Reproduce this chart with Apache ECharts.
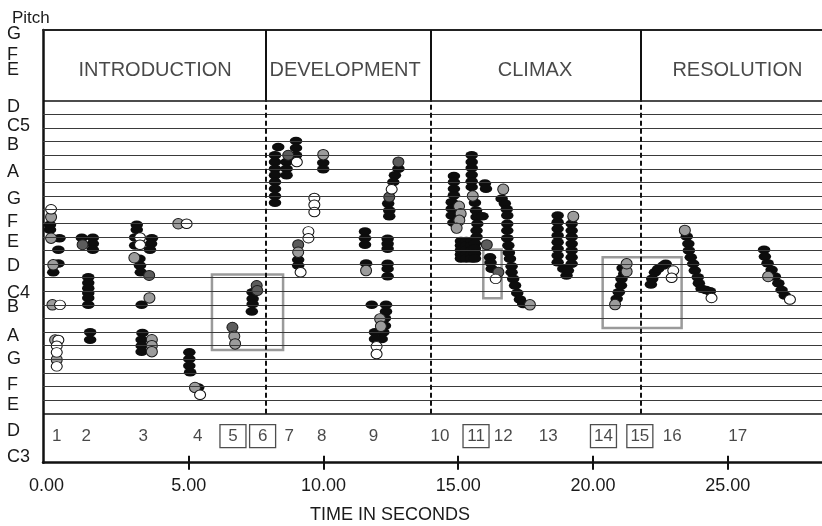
<!DOCTYPE html>
<html>
<head>
<meta charset="utf-8">
<script src="https://cdn.jsdelivr.net/npm/echarts@6/dist/echarts.min.js"></script>
<style>
html, body { margin: 0; padding: 0; background: #fff; }
#chart { width: 822px; height: 526px; }
</style>
</head>
<body>
<div id="chart"></div>
<script>
// time in seconds, pitch as semitone number (C4 = 60)
var blackNotes = [
    [-0.15,64.89],[-0.15,64.52],[0.20,63.90],[0.16,63.05],[0.16,62.04],[-0.03,61.40],
    [1.03,63.93],[1.44,63.93],[1.44,63.49],[1.44,63.05],
    [1.27,61.03],[1.27,60.62],[1.27,60.22],[1.27,59.88],[1.27,59.51],[1.27,59.00],
    [1.34,56.98],[1.34,56.44],
    [3.07,64.89],[3.07,64.52],[3.01,63.95],[3.01,63.37],[3.63,63.90],[3.60,63.49],[3.56,63.05],
    [3.17,62.39],[3.19,61.89],[3.22,61.40],[3.25,59.00],
    [3.28,56.94],[3.25,56.44],[3.25,56.00],[3.25,55.56],
    [5.02,55.51],[5.02,55.02],[5.02,54.53],[5.05,54.04],[5.35,52.93],
    [7.37,59.93],[7.37,59.44],[7.37,59.07],[7.34,58.51],
    [8.32,70.60],[8.20,69.99],[8.20,69.50],[8.20,69.01],[8.20,68.52],[8.20,68.03],[8.20,67.54],[8.20,67.00],[8.20,66.51],
    [8.63,69.50],[8.63,69.01],[8.63,68.52],
    [8.98,71.05],[8.98,70.53],[8.98,69.99],
    [9.99,69.45],[9.99,68.96],
    [9.06,62.31],[9.06,61.89],
    [11.54,64.40],[11.54,63.90],[11.54,63.42],[11.58,62.04],
    [12.38,63.86],[12.38,63.49],[12.38,63.12],[12.38,62.02],[12.38,61.65],[12.38,61.10],
    [12.78,69.01],[12.65,68.52],[12.59,68.03],[12.40,66.44],[12.44,65.94],[12.44,65.52],
    [11.79,59.00],[12.32,59.00],[12.32,58.51],[12.28,58.01],[12.28,57.47],[12.22,56.98],[12.16,56.49],[11.91,56.98],[11.91,56.49],
    [14.84,68.47],[14.84,68.03],[14.84,67.54],[14.84,67.05],[14.76,66.55],[14.76,66.07],[14.76,65.57],[14.82,65.04],
    [15.10,63.70],[15.10,63.37],[15.10,63.04],[15.10,62.70],[15.10,62.40],
    [15.30,63.70],[15.30,63.37],[15.30,63.04],[15.30,62.70],[15.30,62.40],
    [15.50,63.70],[15.50,63.37],[15.50,63.04],[15.50,62.70],[15.50,62.40],
    [15.50,69.99],[15.50,69.50],[15.50,69.06],[15.50,68.57],[15.50,68.08],[15.50,67.66],
    [15.62,66.51],[15.66,65.94],[15.68,65.45],[15.71,64.96],[15.68,64.47],[15.68,63.98],
    [15.62,63.51],[15.62,63.14],[15.62,62.78],[15.62,62.41],
    [15.99,67.91],[16.03,67.54],[15.90,65.52],
    [16.18,62.50],[16.20,62.09],[16.24,61.65],
    [16.61,66.80],[16.73,66.44],[16.80,66.02],[16.82,65.57],[16.82,64.96],[16.82,64.47],[16.82,63.90],
    [16.86,63.37],[16.88,62.83],[16.92,62.39],[16.98,61.84],[16.98,61.40],[17.04,60.91],[17.11,60.42],
    [17.19,59.88],[17.29,59.39],[17.41,59.07],
    [18.69,65.57],[18.69,65.08],[18.69,64.59],[18.69,64.10],[18.69,63.61],[18.69,63.12],[18.69,62.63],[18.69,62.14],
    [18.90,61.65],[19.02,61.16],
    [19.21,64.96],[19.21,64.47],[19.21,63.98],[19.21,63.49],[19.21,63.00],[19.21,62.50],[19.21,62.02],[19.07,61.52],
    [20.88,59.44],[20.96,59.93],[21.04,60.42],[21.06,60.91],[21.16,61.28],[21.10,61.70],
    [22.15,60.49],[22.20,60.91],[22.30,61.40],[22.42,61.65],[22.61,61.89],[22.70,62.02],
    [23.48,64.03],[23.54,63.49],[23.56,63.00],[23.63,62.50],[23.72,62.02],[23.78,61.52],[23.89,61.03],
    [23.93,60.59],[24.03,60.18],[24.19,60.09],[24.34,60.00],
    [26.35,63.05],[26.38,62.56],[26.48,62.06],[26.63,61.58],[26.75,61.08],[26.88,60.59],[27.00,60.10],[27.12,59.68]
];
var darkNotes = [
    [1.06,63.42],[3.53,61.16],[6.62,57.35],[7.52,60.42],[7.54,60.05],[8.69,69.99],
    [9.06,63.42],[12.78,69.50],[12.44,66.92],[16.06,63.42],[16.49,61.40]
];
var grayNotes = [
    [-0.11,65.45],[-0.11,63.90],[-0.03,61.94],[-0.06,59.00],[0.04,56.42],[0.10,54.97],
    [2.98,62.46],[3.54,59.51],[3.63,56.44],[3.63,56.00],[3.63,55.56],
    [4.61,64.96],[5.23,52.93],[6.69,56.69],[6.72,56.13],
    [9.99,70.04],[9.06,62.87],[11.58,61.52],[12.10,57.97],[12.13,57.42],
    [15.03,66.24],[15.09,65.70],[15.04,65.21],[14.94,64.64],[15.54,67.00],
    [16.67,67.49],[17.66,59.00],[19.27,65.50],
    [20.82,59.02],[21.25,61.45],[21.25,62.02],[23.41,64.47],[26.50,61.08]
];
var whiteNotes = [
    [-0.11,66.02],[0.22,59.00],[0.16,56.42],[0.10,56.00],[0.10,55.51],[0.10,54.48],
    [3.19,63.95],[3.19,63.42],[4.92,64.96],[5.42,52.39],
    [9.01,69.50],[9.66,66.85],[9.66,66.36],[9.66,65.82],[9.44,64.40],[9.44,63.90],[9.15,61.40],
    [12.53,67.49],[11.97,55.95],[11.97,55.39],
    [16.39,60.91],[22.98,61.52],[22.92,60.99],[24.40,59.51],[27.31,59.39]
];

var sectionNames = ['INTRODUCTION', 'DEVELOPMENT', 'CLIMAX', 'RESOLUTION'];
var sectionCenters = [3.75, 10.80, 17.85, 25.36];
var sectionBreaks = [7.87, 13.99, 21.78];

var segmentNames = ['1','2','3','4','5','6','7','8','9','10','11','12','13','14','15','16','17'];
var segmentTimes = [0.10, 1.19, 3.31, 5.33, 6.64, 7.74, 8.73, 9.93, 11.85, 14.32, 15.66, 16.67, 18.34, 20.39, 21.74, 22.94, 25.37];
var boxedSegments = ['5', '6', '11', '14', '15'];

// [start time, end time, low pitch, high pitch]
var boxes = [
    [5.86, 8.50, 55.68, 61.23],
    [15.93, 16.61, 59.48, 63.07],
    [20.36, 23.29, 57.30, 62.50]
];

var pitchNames = ['G','F','E','D','C5','B','A','G','F','E','D','C4','B','A','G','F','E','D','C3'];
var pitchLabelPos = [78.91, 77.36, 76.26, 73.54, 72.14, 70.75, 68.76, 66.78, 65.09, 63.62, 61.86, 59.87, 58.84, 56.71, 55.02, 53.11, 51.64, 49.73, 47.82];
var timeTicks = [0, 5, 10, 15, 20, 25];

var lowLine = 51, highLine = 74;
var staffPitches = [];
for (var p = lowLine; p <= highLine; p++) staffPitches.push(p);

var yMin = 47.4, yMax = 79.2;
var headerPitch = 76.26, segmentPitch = 49.36;
var font = "'Liberation Sans', Arial, sans-serif";
var ink = '#1a1a1a';

var chart = echarts.init(document.getElementById('chart'));

var lineData = staffPitches.map(function (p) {
    var edge = (p === lowLine || p === highLine);
    return { yAxis: p, lineStyle: { color: edge ? '#111' : '#3a3a3a', width: edge ? 1.6 : 1.2, type: 'solid' } };
});
sectionBreaks.forEach(function (t) {
    lineData.push([{ coord: [t, lowLine], lineStyle: { type: [5, 3], width: 2, color: '#111' } }, { coord: [t, highLine] }]);
    lineData.push([{ coord: [t, highLine], lineStyle: { type: 'solid', width: 2, color: '#111' } }, { coord: [t, yMax] }]);
});

var areaData = boxes.map(function (b) {
    return [{ coord: [b[0], b[3]] }, { coord: [b[1], b[2]] }];
});

function noteSeries(data, size, fill, border) {
    return {
        type: 'scatter',
        data: data,
        symbol: 'circle',
        symbolSize: size,
        itemStyle: { color: fill, opacity: 1, borderColor: border || fill, borderWidth: border ? 1 : 0 },
        silent: true
    };
}

var blackSeries = noteSeries(blackNotes, [12.5, 8.5], '#0d0d0d');
blackSeries.markLine = {
    silent: true,
    symbol: ['none', 'none'],
    label: { show: false },
    data: lineData
};
blackSeries.markArea = {
    silent: true,
    itemStyle: { color: 'rgba(0,0,0,0)', borderColor: '#9a9a9a', borderWidth: 2.5 },
    data: areaData
};

var gridBox = { left: 43, right: 0, top: 30, bottom: 63.3, containLabel: false, outerBoundsMode: 'none' };

var option = {
    animation: false,
    textStyle: { fontFamily: font },
    title: {
        text: 'Pitch', left: 7, top: 5,
        textStyle: { fontSize: 17, fontWeight: 'normal', color: ink, fontFamily: font }
    },
    grid: [
        Object.assign({}, gridBox),
        Object.assign({}, gridBox)
    ],
    xAxis: [
        {
            type: 'value', gridIndex: 0, position: 'bottom', min: -0.41, max: 28.5,
            axisLine: { show: true, onZero: false, lineStyle: { color: '#111', width: 2.5 } },
            axisTick: { show: true, length: 7, customValues: timeTicks.slice(1), lineStyle: { color: '#111', width: 2 } },
            axisLabel: {
                customValues: timeTicks, margin: 14, fontSize: 18, color: ink,
                formatter: function (v) { return v === 0 ? '{z|0.00}' : v.toFixed(2); },
                rich: { z: { fontSize: 18, color: ink, padding: [0, 15, 0, 0] } }
            },
            splitLine: { show: false },
            name: 'TIME IN SECONDS', nameLocation: 'middle', nameGap: 43,
            nameTextStyle: { fontSize: 18, color: ink, padding: [0, 85, 0, 0] }
        },
        {
            type: 'value', gridIndex: 1, position: 'bottom', min: -0.41, max: 28.5,
            axisLine: { show: false, onZero: false },
            axisTick: { show: true, inside: true, length: 7, customValues: timeTicks.slice(1), lineStyle: { color: '#111', width: 2 } },
            axisLabel: { show: false },
            splitLine: { show: false }
        },
        {
            type: 'value', gridIndex: 0, position: 'top', min: -0.41, max: 28.5,
            axisLine: { show: true, onZero: false, lineStyle: { color: '#222', width: 1.8 } },
            axisTick: { show: false }, axisLabel: { show: false }, splitLine: { show: false }
        }
    ],
    yAxis: [
        {
            type: 'value', gridIndex: 0, min: yMin, max: yMax,
            axisLine: { show: true, onZero: false, lineStyle: { color: '#111', width: 2.5 } },
            axisTick: { show: false },
            axisLabel: {
                customValues: pitchLabelPos, align: 'left', margin: 36, fontSize: 18, color: ink,
                formatter: function (v) {
                    var best = 0;
                    for (var i = 1; i < pitchLabelPos.length; i++) {
                        if (Math.abs(pitchLabelPos[i] - v) < Math.abs(pitchLabelPos[best] - v)) best = i;
                    }
                    return pitchNames[best];
                }
            },
            splitLine: { show: false }
        },
        {
            type: 'value', gridIndex: 1, min: yMin, max: yMax, show: false
        }
    ],
    series: [
        blackSeries,
        noteSeries(darkNotes, [11, 10], '#5c5c5c', '#1a1a1a'),
        noteSeries(grayNotes, [11, 10.5], '#9c9c9c', '#1a1a1a'),
        noteSeries(whiteNotes, [11, 9.5], '#ffffff', '#111111'),
        {
            type: 'scatter',
            data: sectionCenters.map(function (t, i) { return [t, headerPitch, sectionNames[i]]; }),
            symbolSize: 1,
            itemStyle: { color: 'rgba(0,0,0,0)' },
            silent: true,
            label: {
                show: true, position: 'inside', fontSize: 20, color: ink, fontFamily: font,
                formatter: function (p) { return p.data[2]; }
            }
        },
        {
            type: 'scatter',
            data: segmentTimes.map(function (t, i) { return [t, segmentPitch, segmentNames[i]]; }),
            symbolSize: 1,
            itemStyle: { color: 'rgba(0,0,0,0)' },
            silent: true,
            label: {
                show: true, position: 'inside', fontSize: 17, color: ink, fontFamily: font,
                formatter: function (p) {
                    var s = p.data[2];
                    return boxedSegments.indexOf(s) >= 0 ? '{b|' + s + '}' : '{n|' + s + '}';
                },
                rich: {
                    n: { fontSize: 17, color: ink, fontFamily: font },
                    b: {
                        fontSize: 17, color: ink, fontFamily: font, width: 20, height: 18, align: 'center',
                        padding: [3, 3, 2, 3], borderColor: '#222', borderWidth: 1.3
                    }
                }
            }
        }
    ]
};

chart.setOption(option);
</script>
</body>
</html>
